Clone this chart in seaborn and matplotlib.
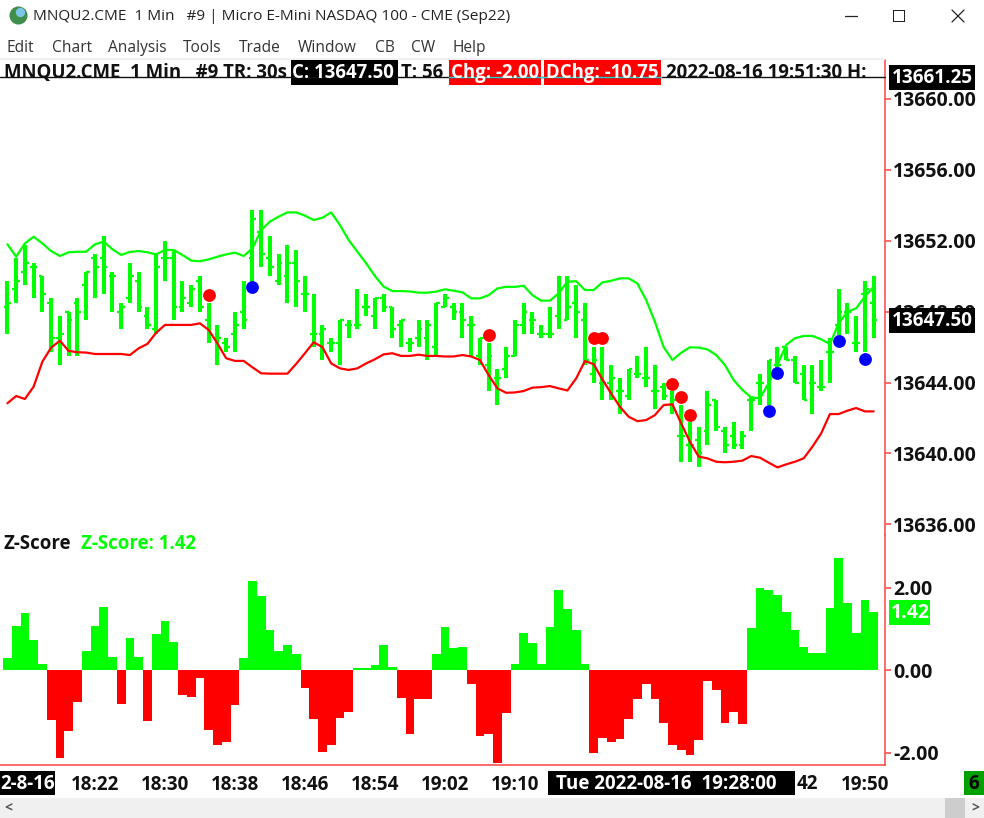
import matplotlib
matplotlib.use('Agg')
import matplotlib.pyplot as plt
from matplotlib.patches import Rectangle
from matplotlib.ticker import FixedLocator
import numpy as np
import pandas as pd
import seaborn as sns

price_base = 13600

highs = [49.75,51.0,51.75,50.75,50.0,48.75,47.75,48.0,48.75,50.25,
         51.25,52.25,50.25,48.5,50.75,50.25,48.25,51.25,52.0,51.5,
         49.75,49.5,50.0,48.5,47.25,46.5,48.0,49.75,53.75,53.75,
         52.25,51.25,51.75,51.5,50.0,49.0,47.25,46.5,47.5,47.5,
         49.25,49.0,48.75,49.0,48.25,47.5,46.5,47.5,47.5,48.5,
         49.0,48.5,48.5,47.75,46.5,46.25,44.75,46.0,47.5,48.5,
         48.0,47.25,48.25,50.0,50.0,49.5,48.5,46.0,46.0,45.0,
         44.25,44.75,45.5,46.0,45.0,44.0,43.5,42.75,41.75,41.5,
         43.5,43.0,41.5,41.75,41.25,43.25,44.5,45.25,46.0,46.0,
         45.5,45.0,45.0,45.25,46.5,49.25,48.5,47.75,49.75,50.0]
lows = [46.75,48.5,49.5,48.75,48.0,45.75,45.0,45.5,45.5,47.5,
        48.75,49.0,48.0,47.0,48.5,48.0,47.0,46.75,49.75,47.5,
        48.0,48.25,48.0,46.25,45.0,45.75,45.75,47.0,49.5,50.5,
        50.0,49.5,48.5,48.25,48.0,46.0,45.25,45.75,45.0,46.5,
        47.0,47.75,47.0,48.0,46.5,46.0,45.75,46.0,45.25,45.5,
        48.25,47.5,46.5,45.5,45.0,43.5,42.75,44.25,45.5,46.75,
        46.75,46.5,46.5,47.0,47.5,46.5,45.0,44.0,43.0,43.0,
        42.25,43.0,44.25,43.75,42.5,43.0,42.25,39.5,39.5,39.25,
        40.5,41.25,40.0,40.25,40.25,41.25,42.75,42.75,44.75,45.25,
        44.0,43.0,42.25,43.5,44.0,46.5,46.75,45.75,45.75,46.5]
opens = [48.25,49.25,50.25,50.5,50.0,48.5,46.5,48.0,48.5,49.5,
         51.0,51.0,50.0,48.0,48.75,49.75,47.75,47.0,51.0,51.0,
         48.25,48.5,49.75,47.5,46.5,46.25,46.75,48.0,51.0,52.5,
         51.0,49.75,50.0,50.75,49.0,46.75,46.75,46.25,46.25,47.25,
         47.25,48.25,47.75,48.75,48.25,47.25,46.25,46.5,46.5,46.0,
         48.25,48.25,48.0,47.25,45.5,45.0,44.25,44.75,45.5,47.25,
         47.5,46.75,46.75,47.75,47.5,48.5,47.5,44.5,44.0,44.0,
         43.5,43.25,44.5,44.25,43.5,43.75,42.75,41.0,40.5,40.75,
         41.25,43.0,41.25,41.0,40.5,43.0,44.0,43.75,45.0,46.0,
         45.25,44.5,44.0,43.75,45.75,47.25,48.0,46.25,49.0,48.5]
closes = [48.5,49.75,50.75,50.5,49.0,46.5,46.75,47.5,48.0,50.25,
          50.5,50.5,50.0,48.25,50.0,48.25,47.25,50.5,51.0,48.25,
          48.75,49.25,48.25,46.75,46.5,46.0,47.25,47.5,53.25,51.25,
          50.5,50.75,50.75,49.75,49.0,46.75,47.0,46.25,47.5,47.25,
          47.25,48.25,48.75,48.25,47.0,47.5,46.25,47.0,47.25,48.5,
          48.75,48.0,47.5,47.25,46.5,45.5,44.25,45.5,47.25,48.0,
          47.5,46.75,46.75,49.25,48.25,48.0,45.25,45.25,44.0,44.25,
          43.5,44.75,44.5,44.25,43.5,43.25,43.0,41.0,40.5,40.0,
          42.75,41.5,40.5,40.5,41.0,43.0,44.0,45.25,45.0,45.25,
          44.0,43.0,44.0,43.75,45.75,48.0,48.0,46.25,49.25,47.5]
upper_band = [51.8,51.1,51.85,52.23,51.85,51.42,51.14,51.35,51.38,51.38,
              51.8,51.95,51.52,51.2,51.37,51.42,51.35,51.23,51.48,51.48,
              51.2,50.88,50.84,50.95,51.1,51.23,51.33,51.14,51.57,52.6,
              53.08,53.36,53.6,53.6,53.42,53.17,53.3,53.6,52.89,52.04,
              51.38,50.73,50.01,49.41,49.16,49.16,49.14,49.07,49.07,49.13,
              49.26,49.18,49.09,48.75,48.75,48.93,49.31,49.4,49.4,49.46,
              48.93,48.62,48.62,49.03,49.69,49.72,49.22,49.22,49.65,49.74,
              49.88,49.88,49.59,48.65,47.43,46.0,45.27,45.68,45.99,45.97,
              45.87,45.55,44.99,44.14,43.58,43.16,43.11,43.95,44.99,46.12,
              46.5,46.63,46.63,46.44,46.17,47.34,47.99,48.19,48.85,49.41]
lower_band = [42.83,43.24,43.07,43.77,45.18,45.97,46.36,45.78,45.71,45.69,
              45.61,45.61,45.61,45.61,45.55,45.93,46.18,46.81,47.25,47.25,
              47.25,47.25,47.34,46.97,46.21,45.37,45.22,45.22,44.86,44.52,
              44.5,44.5,44.5,45.05,45.65,46.27,46.0,45.08,44.8,44.71,
              44.8,45.08,45.31,45.59,45.65,45.5,45.5,45.57,45.5,45.5,
              45.47,45.47,45.55,45.47,45.27,44.42,43.67,43.42,43.44,43.52,
              43.71,43.74,43.8,43.67,43.55,44.23,45.21,45.04,44.17,43.38,
              42.63,42.07,41.82,41.88,42.16,42.73,42.77,41.7,40.66,39.82,
              39.72,39.53,39.5,39.53,39.59,39.85,39.76,39.48,39.21,39.38,
              39.53,39.72,40.38,41.13,42.22,42.22,42.41,42.56,42.37,42.37]
zscore = [0.30,1.08,1.39,0.73,0.15,-1.21,-2.13,-1.48,-0.78,0.48,
          1.08,1.54,0.33,-0.82,0.78,0.33,-1.24,0.87,1.20,0.69,
          -0.61,-0.64,-0.18,-1.45,-1.82,-1.73,-0.85,0.30,2.17,1.79,
          0.97,0.48,0.61,0.39,-0.42,-1.18,-1.97,-1.82,-1.16,-1.00,
          0.06,0.06,0.12,0.61,0.09,-0.66,-1.54,-0.69,-0.69,0.39,
          1.06,0.55,0.57,-0.33,-1.60,-1.54,-2.24,-1.03,0.15,0.91,
          0.66,0.15,1.06,1.94,1.49,0.97,0.15,-2.00,-1.63,-1.75,
          -1.66,-1.18,-0.69,-0.33,-0.69,-1.27,-1.82,-1.94,-2.06,-1.70,
          -0.27,-0.48,-1.27,-1.00,-1.30,1.03,2.00,1.94,1.82,1.42,
          0.97,0.57,0.42,0.42,1.51,2.72,1.63,0.91,1.70,1.42]
red_dot_bars = [23, 55, 67, 68, 76, 77, 78]
red_dot_prices = [48.94, 46.68, 46.51, 46.51, 43.92, 43.18, 42.17]
blue_dot_bars = [28, 87, 88, 95, 98]
blue_dot_prices = [49.39, 42.39, 44.56, 46.34, 45.33]

price_ticks = [13636, 13640, 13644, 13648, 13652, 13656, 13660]
z_ticks = [-2, 0, 2]
# labels under the date and crosshair flags are not visible in the chart
time_tick_bars = [0, 10, 18, 26, 34, 42, 50, 58, 66, 74, 82, 90, 98]
time_tick_labels = ['', '18:22', '18:30', '18:38', '18:46', '18:54', '19:02',
                    '19:10', '', '', '', '', '19:50']

GREEN = '#00ff00'
RED = '#ff0000'
AXIS_RED = '#ff5050'
W, H = 984, 818

sns.set_theme(style='white')
plt.rcParams['font.family'] = ['Open Sans', 'DejaVu Sans']


def pane(fig, top, bottom):
    # axes placed in window pixels, width up to the price scale
    return fig.add_axes([0, 1 - bottom / H, 885 / W, (bottom - top) / H])


def px_to_bar(px):
    return (px - 7.4) / 8.75


fig = plt.figure(figsize=(W / 100, H / 100), dpi=100)

# price pane
bars = np.arange(len(highs))
ax = pane(fig, 60, 535)
ax.vlines(bars, np.array(lows) + price_base, np.array(highs) + price_base, color=GREEN, lw=2.9)
ax.hlines(np.array(opens) + price_base, bars - 0.42, bars, color=GREEN, lw=1.6)
ax.hlines(np.array(closes) + price_base, bars, bars + 0.42, color=GREEN, lw=1.6)
sns.lineplot(x=bars, y=np.array(upper_band) + price_base, color=GREEN, lw=1.6, ax=ax)
sns.lineplot(x=bars, y=np.array(lower_band) + price_base, color=RED, lw=1.6, ax=ax)
sns.scatterplot(x=red_dot_bars, y=np.array(red_dot_prices) + price_base, color=RED, s=85, linewidth=0, ax=ax, zorder=5)
sns.scatterplot(x=blue_dot_bars, y=np.array(blue_dot_prices) + price_base, color='#0000ff', s=85, linewidth=0, ax=ax, zorder=5)
ax.set_xlim(px_to_bar(0), px_to_bar(885))
ax.set_ylim(13660 - (535 - 99) / 17.72, 13660 + (99 - 60) / 17.72)
ax.yaxis.tick_right()
ax.yaxis.set_major_locator(FixedLocator(price_ticks))
ax.set_yticklabels([f'{t:.2f}' for t in price_ticks], fontsize=14, fontweight='bold', color='#111111')
ax.set_xticks([])

# z-score pane
z_df = pd.DataFrame({'bar': bars, 'zscore': zscore})
z_df['sign'] = np.where(z_df['zscore'] >= 0, 'up', 'down')
ax_z = pane(fig, 535, 765)
sns.barplot(data=z_df, x='bar', y='zscore', hue='sign', palette={'up': GREEN, 'down': RED},
            native_scale=True, dodge=False, width=1, saturation=1, legend=False, linewidth=0, ax=ax_z)
ax_z.set_xlim(px_to_bar(0), px_to_bar(885))
ax_z.set_ylim(-(765 - 670.3) / 41.25, (670.3 - 535) / 41.25)
ax_z.yaxis.tick_right()
ax_z.yaxis.set_major_locator(FixedLocator(z_ticks))
ax_z.set_yticklabels([f'{t:.2f}' for t in z_ticks], fontsize=14, fontweight='bold', color='#111111')
ax_z.set_xticks(time_tick_bars)
ax_z.set_xticklabels(time_tick_labels, fontsize=13.5, fontweight='bold', color='#111111')
ax_z.set_xlabel('')
ax_z.set_ylabel('')

for a in (ax, ax_z):
    a.patch.set_alpha(0)
    for side in ('top', 'left', 'bottom', 'right'):
        a.spines[side].set_visible(False)
    a.spines['right'].set_visible(True)
    a.spines['right'].set_color(AXIS_RED)
    a.spines['right'].set_linewidth(1.2)
    a.tick_params(axis='y', length=4, width=1.2, color=AXIS_RED, pad=2)
ax_z.spines['bottom'].set_visible(True)
ax_z.spines['bottom'].set_color(AXIS_RED)
ax_z.spines['bottom'].set_linewidth(1.2)
ax_z.tick_params(axis='x', length=4, width=1.2, color=AXIS_RED, pad=3)

# window chrome drawn over the panes, in pixel coordinates
ui = fig.add_axes([0, 0, 1, 1], zorder=10)
ui.set_xlim(0, W)
ui.set_ylim(H, 0)
ui.axis('off')


def box(x0, y0, x1, y1, color):
    ui.add_patch(Rectangle((x0, y0), x1 - x0, y1 - y0, facecolor=color, edgecolor='none'))


def label(x, y, s, size=13.5, color='#111111', weight='bold', ha='left'):
    ui.text(x, y, s, fontsize=size, color=color, fontweight=weight, ha=ha, va='center')


# title bar
ui.scatter([18], [15], s=170, color='#3f8f4a', linewidth=0)
ui.scatter([20], [12], s=45, color='#7ec6e8', linewidth=0)
label(33, 16, 'MNQU2.CME  1 Min   #9 | Micro E-Mini NASDAQ 100 - CME (Sep22)', size=11.05, color='#222222', weight='normal')
ui.plot([845, 857], [15.5, 15.5], color='#222222', lw=0.9)
box(893, 10, 905, 22, '#222222')
box(894, 11, 904, 21, 'white')
ui.plot([952, 964], [10, 22], color='#222222', lw=0.9)
ui.plot([952, 964], [22, 10], color='#222222', lw=0.9)

# menu
menu_items = ['Edit', 'Chart', 'Analysis', 'Tools', 'Trade', 'Window', 'CB', 'CW', 'Help']
menu_x = [7, 52, 108, 183, 239, 298, 375, 411, 453]
for mx, item in zip(menu_x, menu_items):
    label(mx, 48, item, size=11.2, color='#333333', weight='normal')
box(0, 58, 885, 60, '#f0f0f0')

# header line with struck-through status text
box(291, 60, 398, 85, 'black')
box(449, 60, 541, 85, RED)
box(544, 60, 661, 85, RED)
label(4, 73, 'MNQU2.CME  1 Min   #9 TR: 30s', size=13.4)
label(292, 73, 'C: 13647.50', size=13.4, color='white')
label(401, 73, 'T: 56', size=13.4)
label(451, 73, 'Chg: -2.00', size=13.4, color='white')
label(546, 73, 'DChg: -10.75', size=13.4, color='white')
label(666, 73, '2022-08-16 19:51:30 H:', size=13.4)
ui.plot([0, 885], [77, 77], color='#111111', lw=1.0)
ui.plot([449, 661], [77, 77], color='#30d0d0', lw=1.0)

# price scale flags
box(889, 65, 975, 90, 'black')
label(932, 78, '13661.25', size=13.6, color='white', ha='center')
box(889, 308, 975, 333, 'black')
label(932, 321, '13647.50', size=13.6, color='white', ha='center')

# z-score captions
label(4, 544, 'Z-Score', size=13.4)
label(81, 544, 'Z-Score: 1.42', size=13.4, color=GREEN)
box(889, 600, 930, 625, GREEN)
label(910, 613, '1.42', size=14, color='white', ha='center')

# time axis flags
box(0, 771, 55, 795, 'black')
label(0, 784, '2-8-16', color='white')
box(548, 771, 795, 795, 'black')
label(556, 784, 'Tue 2022-08-16  19:28:00', color='white')
label(797, 784, '42')

# bottom right volume flag and scroll bar
box(964, 771, 984, 795, '#00a000')
label(968, 784, '6', color='black')
box(0, 798, 984, 818, '#f0f0f0')
box(945, 798, 965, 818, '#cdcdcd')
label(8, 807, '<', size=10, color='#555555', ha='center')
label(975, 807, '>', size=10, color='#555555', ha='center')

plt.savefig('out.png', dpi=100)
plt.close()
